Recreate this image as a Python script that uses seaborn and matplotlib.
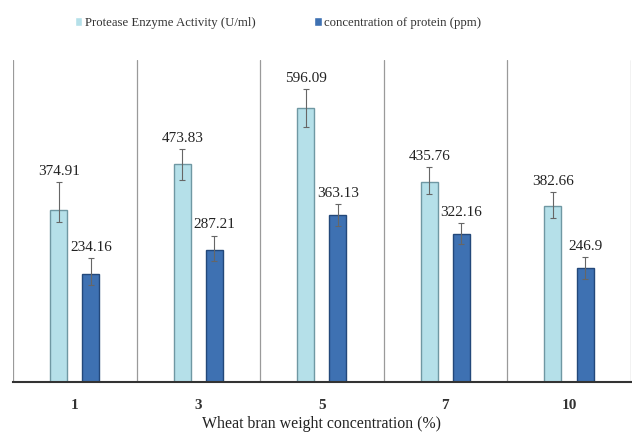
import numpy as np
import pandas as pd
import matplotlib
matplotlib.use("Agg")
import matplotlib.pyplot as plt
import seaborn as sns

# data
concentrations = ["1", "3", "5", "7", "10"]
protease_activity = [374.91, 473.83, 596.09, 435.76, 382.66]
protease_err_low = [26, 35, 41, 28, 26]
protease_err_up = [59, 33, 41, 31, 31]
protein_conc = [234.16, 287.21, 363.13, 322.16, 246.9]
protein_err_low = [24, 24, 24, 22, 24]
protein_err_up = [35, 31, 24, 24, 24]
series_names = ["Protease Enzyme Activity (U/ml)", "concentration of protein (ppm)"]

df = pd.DataFrame({
    "conc": concentrations * 2,
    "value": protease_activity + protein_conc,
    "err_low": protease_err_low + protein_err_low,
    "err_up": protease_err_up + protein_err_up,
    "series": [series_names[0]] * 5 + [series_names[1]] * 5,
})

sns.set_style("white")
plt.rcParams["font.family"] = ["Liberation Serif", "DejaVu Serif"]

fig, ax = plt.subplots(figsize=(6.32, 4.34), dpi=100)
fig.subplots_adjust(left=13 / 632, right=0.998, bottom=1 - 382 / 434, top=1 - 60 / 434)

palette = {series_names[0]: "#b5e0e9", series_names[1]: "#3e71b2"}
sns.barplot(data=df, x="conc", y="value", hue="series", order=concentrations,
            hue_order=series_names, palette=palette, width=0.52, gap=0.47,
            errorbar=None, saturation=1, ax=ax)

edge_cols = {series_names[0]: "#6f98a3", series_names[1]: "#23487a"}
for cont, name in zip(ax.containers, series_names):
    sub = df[df["series"] == name].set_index("conc").loc[concentrations]
    xs = [p.get_x() + p.get_width() / 2 for p in cont.patches]
    for p in cont.patches:
        p.set_edgecolor(edge_cols[name])
        p.set_linewidth(1.0)
    ax.errorbar(xs, sub["value"], yerr=[sub["err_low"], sub["err_up"]], fmt="none",
                ecolor="#666666", elinewidth=0.8, capsize=2.5, capthick=0.8)
    for x, v, e in zip(xs, sub["value"], sub["err_up"]):
        ax.annotate(f"{v:g}", (x, v + e), xytext=(0, 3), textcoords="offset points",
                    ha="center", va="bottom", fontsize=11, color="#222222")

ax.set_ylim(0, 700)
ax.set_xlim(-0.5, 4.5)
ax.set_yticks([])
ax.set_xticks(np.arange(-0.5, 5, 1), minor=True)
ax.grid(True, which="minor", axis="x", color="#9a9a9a", linewidth=0.9)
ax.tick_params(axis="x", which="both", length=0, pad=12)
for lbl in ax.get_xticklabels():
    lbl.set_fontsize(11)
    lbl.set_fontweight("bold")
    lbl.set_color("#333333")

for s in ["top", "left", "right"]:
    ax.spines[s].set_visible(False)
ax.spines["bottom"].set_color("#333333")
ax.spines["bottom"].set_linewidth(1.5)

ax.set_ylabel("")
ax.set_xlabel("Wheat bran weight concentration (%)", fontsize=11.4, labelpad=3, color="#222222")

fig.legend(*ax.get_legend_handles_labels(), loc="center",
           bbox_to_anchor=(278 / 632, 1 - 23 / 434), ncol=2, frameon=False,
           fontsize=9.2, handlelength=0.6, handleheight=0.6, handletextpad=0.2,
           columnspacing=4.6, labelcolor="#333333")
ax.get_legend().remove()

fig.savefig("out.png", dpi=100)
